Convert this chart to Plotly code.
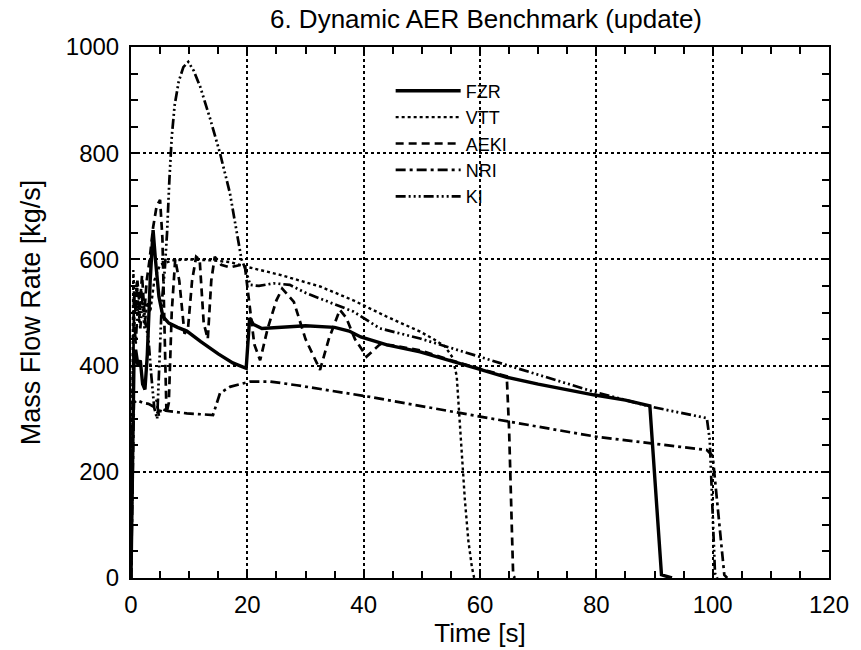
import plotly.graph_objects as go

# ---------------- data ----------------
fzr_t = [0, 0.3, 0.5, 0.8, 1.2, 1.6, 2.0, 2.4, 2.8, 3.3, 3.8, 4.2, 4.8, 5.5, 6.5, 8, 9.6, 12, 15, 17.5,
         19.8, 20.4, 21, 22.5, 25, 30, 35, 37.5, 39.5, 44, 49.7, 55.4, 60, 64.6, 70, 79.5, 85, 89.2, 91.2, 93]
fzr_v = [0, 200, 400, 430, 400, 410, 365, 355, 420, 560, 655, 600, 530, 492, 480, 472, 465, 445, 422, 405,
         395, 490, 478, 470, 472, 475, 472, 465, 454, 439, 426, 407, 393, 378, 365, 345, 335, 324, 6, 0]

vtt_t = [0, 0.2, 0.4, 0.7, 1.0, 1.4, 1.8, 2.3, 2.8, 3.3, 4, 5, 7, 10, 14, 17, 19.9, 25.6, 32.5, 38.2, 44,
         49.7, 52, 54, 55.3, 56, 56.6, 57.4, 58, 58.6, 59]
vtt_v = [0, 300, 580, 500, 560, 480, 540, 470, 520, 500, 560, 590, 598, 600, 598, 595, 586, 571, 549, 523, 492,
         464, 450, 436, 415, 380, 273, 147, 70, 21, 0]

aeki_t = [0, 0.3, 0.5, 0.8, 1.1, 1.5, 1.9, 2.3, 2.7, 3.2, 3.8, 4.4, 5.0, 5.4, 5.8, 6.1, 6.5, 7.0, 7.6, 8.3,
          9.2, 9.8, 10.5, 11.2, 11.8, 12.5, 13.2, 13.8, 14.4, 15.5, 17, 19, 19.6, 20.3, 21.2, 22.2, 23.5,
          25, 26, 28, 30, 32.5, 34, 35.9, 37, 38.5, 40.5, 42.8, 45, 50, 55, 60, 64.6, 65.0, 65.4, 65.7, 66]
aeki_v = [0, 350, 540, 500, 560, 510, 570, 500, 560, 600, 660, 700, 712, 640, 450, 310, 330, 500, 600, 560,
          460, 470, 560, 605, 600, 480, 450, 560, 605, 590, 585, 590, 585, 520, 440, 410, 470,
          523, 545, 520, 450, 392, 450, 505, 490, 450, 417, 440, 438, 428, 410, 394, 380, 280, 120, 5, 0]

nri_t = [0, 0.3, 0.5, 1, 2, 3, 3.8, 4.4, 4.8, 5.2, 6, 9.6, 14.1, 15.3, 17, 20.5, 23.9, 28.5, 41.1, 60, 80,
         94.4, 99, 100, 101, 102, 102.5]
nri_v = [0, 200, 330, 335, 330, 328, 323, 335, 305, 320, 315, 310, 307, 348, 360, 370, 370, 363, 341, 304,
         266, 247, 241, 230, 120, 6, 0]

ki_t = [0, 0.3, 0.5, 0.8, 1.2, 1.6, 2, 2.5, 3, 3.5, 4.0, 4.5, 4.9, 5.3, 5.8, 6.2, 6.6, 7.0, 7.5, 8.2, 9.0,
        9.85, 10.8, 11.9, 13.6, 15.3, 17, 18.2, 19.0, 19.6, 20.5, 22, 24.5, 27.3, 30.2, 38.2, 42.8, 49.7,
        64.6, 79.5, 89.2, 99, 99.5, 100, 100.4, 100.8]
ki_v = [0, 250, 500, 440, 520, 470, 530, 480, 450, 380, 320, 300, 420, 520, 580, 650, 750, 830, 890, 935, 962,
        972, 955, 925, 865, 800, 725, 650, 600, 584, 552, 550, 555, 552, 536, 502, 470, 451,
        401, 351, 323, 301, 260, 120, 9, 0]

x_ticks = [0, 20, 40, 60, 80, 100, 120]
y_ticks = [0, 200, 400, 600, 800, 1000]

FONT = "Liberation Sans, Arial, Helvetica, sans-serif"

fig = go.Figure()
series = [
    ("FZR", fzr_t, fzr_v, "solid", 3.4),
    ("VTT", vtt_t, vtt_v, "dot", 2.4),
    ("AEKI", aeki_t, aeki_v, "8px,5px", 2.7),
    ("NRI", nri_t, nri_v, "10px,4px,3px,4px", 2.7),
    ("KI", ki_t, ki_v, "10px,3px,2px,3px,2px,3px,2px,3px", 2.7),
]
for name, t, v, dash, w in series:
    fig.add_trace(go.Scatter(x=t, y=v, mode="lines", name=name,
                             line=dict(color="black", width=w, dash=dash)))

axis_common = dict(
    showline=True, linecolor="black", linewidth=2, mirror="allticks",
    ticks="inside", ticklen=8, tickwidth=1.5, tickcolor="black",
    showgrid=True, gridcolor="black", gridwidth=1.5, griddash="dot",
    zeroline=False,
    tickfont=dict(family=FONT, size=24, color="black"),
)

fig.update_xaxes(range=[0, 120], tickvals=x_ticks,
                 minor=dict(dtick=5, ticks="inside", ticklen=7, tickwidth=1.5, tickcolor="black", showgrid=False),
                 title=dict(text="Time [s]", font=dict(family=FONT, size=26, color="black"), standoff=0),
                 ticklabelstandoff=4, **axis_common)
fig.update_yaxes(range=[0, 1000], tickvals=y_ticks,
                 minor=dict(dtick=50, ticks="inside", ticklen=7, tickwidth=1.5, tickcolor="black", showgrid=False),
                 title=dict(text="Mass Flow Rate [kg/s]", font=dict(family=FONT, size=27, color="black"), standoff=17),
                 ticklabelstandoff=5, **axis_common)

fig.update_layout(
    width=861, height=650,
    margin=dict(l=131, r=32, t=47, b=72),
    paper_bgcolor="white", plot_bgcolor="white",
    title=dict(text="6. Dynamic AER Benchmark (update)", x=486 / 861, xanchor="center",
               y=1 - 19 / 650, yanchor="middle", font=dict(family=FONT, size=26, color="black")),
    legend=dict(x=0.372, y=0.952, xanchor="left", yanchor="top", bgcolor="rgba(0,0,0,0)",
                font=dict(family=FONT, size=18, color="black"), itemwidth=65, tracegroupgap=0),
    showlegend=True,
)

fig.write_html("out.html")
